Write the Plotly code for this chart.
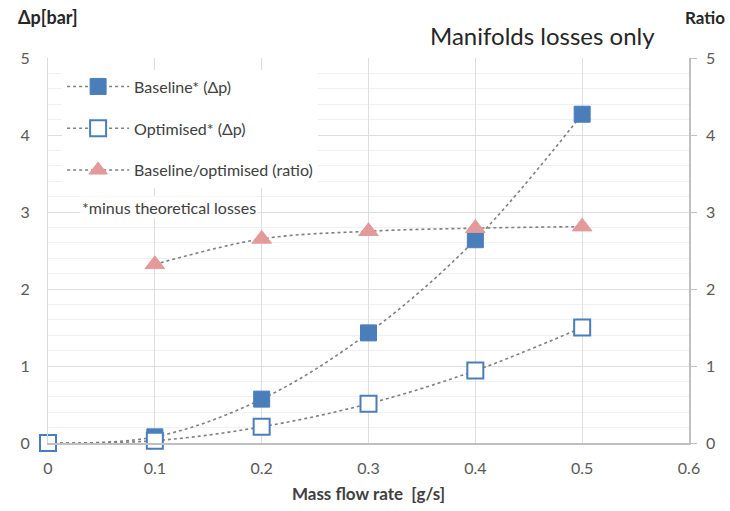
import plotly.graph_objects as go

# Mass flow rate [g/s]
flow = [0, 0.1, 0.2, 0.3, 0.4, 0.5]
# Pressure drop [bar], manifold losses only
baseline_dp = [0, 0.08, 0.57, 1.43, 2.64, 4.27]
optimised_dp = [0, 0.03, 0.21, 0.51, 0.94, 1.50]
# Baseline / optimised pressure-drop ratio
ratio_flow = [0.1, 0.2, 0.3, 0.4, 0.5]
ratio = [2.32, 2.65, 2.75, 2.79, 2.81]

x_ticks = [0, 0.1, 0.2, 0.3, 0.4, 0.5, 0.6]
y_ticks = [0, 1, 2, 3, 4, 5]

BLUE = "#4a7ebb"
PINK = "#e39a9a"
LINE = dict(color="#7f7f7f", width=1.6, dash="dot", shape="spline", smoothing=1.0)
FONT = "Lato, 'Open Sans', sans-serif"

fig = go.Figure()

fig.add_trace(go.Scatter(
    x=flow, y=baseline_dp, name="Baseline* (Δp)", mode="lines+markers",
    line=LINE, legendgroup="a", cliponaxis=False,
    marker=dict(symbol="square", size=16, color=BLUE, line=dict(color=BLUE, width=1)),
))
fig.add_trace(go.Scatter(
    x=flow, y=optimised_dp, name="Optimised* (Δp)", mode="lines+markers",
    line=LINE, legendgroup="b", cliponaxis=False,
    marker=dict(symbol="square", size=16, color="white", line=dict(color=BLUE, width=2)),
))
fig.add_trace(go.Scatter(
    x=ratio_flow, y=ratio, name="Baseline/optimised (ratio)", mode="lines+markers",
    line=LINE, legendgroup="c", yaxis="y2", cliponaxis=False,
    marker=dict(symbol="triangle-up", size=17, color=PINK, line=dict(color=PINK, width=1)),
))

tick_font = dict(family=FONT, size=16, color="#595959")

fig.update_layout(
    width=730, height=511,
    margin=dict(l=48, r=41, t=58, b=68, autoexpand=False),
    paper_bgcolor="white", plot_bgcolor="white",
    font=dict(family=FONT, color="#404040"),
    showlegend=True,
    legend=dict(
        x=0.022, y=0.97, xanchor="left", yanchor="top",
        bgcolor="white", borderwidth=0,
        font=dict(family=FONT, size=16, color="#404040"),
        tracegroupgap=18, itemwidth=62,
    ),
    xaxis=dict(
        range=[0, 0.6], tickvals=x_ticks, ticktext=[f"{v:g}" for v in x_ticks],
        showgrid=True, gridcolor="#dedede", gridwidth=1,
        showline=True, linecolor="#bfbfbf", linewidth=1.5, automargin=False,
        zeroline=False, ticks="", tickfont=tick_font, ticklabelstandoff=10,
        title=dict(text="<b>Mass flow rate  [g/s]</b>",
                   font=dict(family=FONT, size=17, color="#404040"), standoff=12),
    ),
    yaxis=dict(
        range=[0, 5], tickvals=y_ticks, automargin=False,
        showgrid=True, gridcolor="#dedede", gridwidth=1,
        minor=dict(dtick=0.2, showgrid=True, gridcolor="#f0f0f0", gridwidth=1),
        showline=True, linecolor="#d9d9d9", linewidth=1,
        zeroline=False, ticks="", tickfont=tick_font, ticklabelstandoff=14,
    ),
    yaxis2=dict(
        range=[0, 5], tickvals=y_ticks, overlaying="y", side="right", automargin=False,
        showgrid=False, zeroline=False,
        showline=True, linecolor="#bfbfbf", linewidth=1.5,
        ticks="outside", ticklen=6, tickcolor="#bfbfbf",
        tickfont=tick_font, ticklabelstandoff=6,
    ),
    annotations=[
        dict(text="<b>Δp[bar]</b>", x=0, y=1, xref="paper", yref="paper",
             xanchor="left", yanchor="bottom", xshift=-32, yshift=28, showarrow=False,
             font=dict(family=FONT, size=18, color="#262626")),
        dict(text="<b>Ratio</b>", x=1, y=1, xref="paper", yref="paper",
             xanchor="right", yanchor="bottom", xshift=38, yshift=28, showarrow=False,
             font=dict(family=FONT, size=17, color="#262626")),
        dict(text="Manifolds losses only", x=0.95, y=1, xref="paper", yref="paper",
             xanchor="right", yanchor="bottom", yshift=6, showarrow=False,
             font=dict(family=FONT, size=24, color="#262626")),
        dict(text="*minus theoretical losses", x=0.05, y=0.612, xref="paper", yref="paper",
             xanchor="left", yanchor="middle", showarrow=False, bgcolor="white",
             font=dict(family=FONT, size=16, color="#404040")),
    ],
)

fig.write_html("out.html")
